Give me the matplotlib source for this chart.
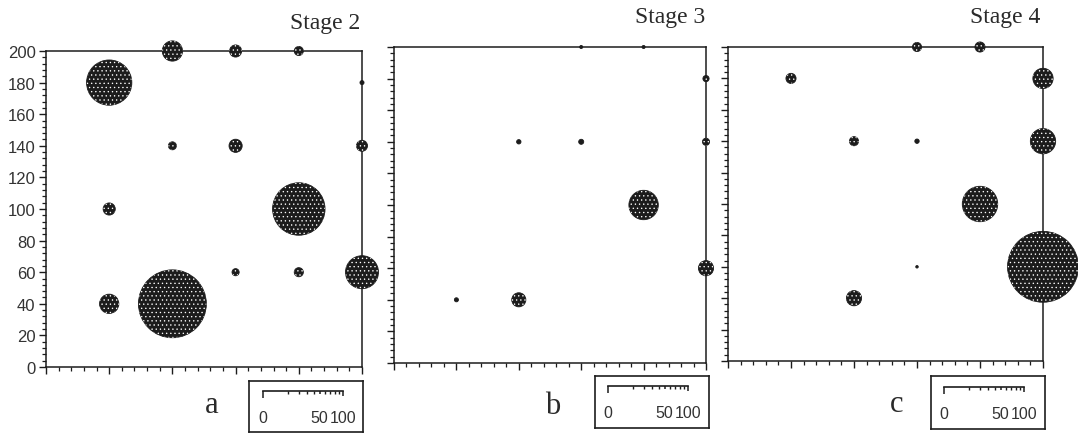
import numpy as np
import matplotlib
matplotlib.use("Agg")
import matplotlib.pyplot as plt
from matplotlib.ticker import MultipleLocator, NullFormatter

plt.rcParams['font.family'] = ['Liberation Sans', 'DejaVu Sans']
plt.rcParams['hatch.color'] = 'white'
plt.rcParams['hatch.linewidth'] = 0.45

W, H = 1078, 435
INK = '#1c1c1c'
LEG_PX = 80          # length of the 0-100 size bar, in pixels

# grid sites and bubble values for each stage
stage2_x = [80, 120, 160, 40, 200, 80, 120, 200, 40, 160, 120, 160, 200, 40, 80]
stage2_y = [200, 200, 200, 180, 180, 140, 140, 140, 100, 100, 60, 60, 60, 40, 40]
stage2_v = [6.4, 2.3, 1.3, 32, 0.26, 1.0, 2.7, 1.9, 2.3, 43, 0.8, 1.3, 17, 5.8, 72]

stage3_x = [120, 160, 200, 80, 120, 200, 160, 200, 40, 80]
stage3_y = [200, 200, 180, 140, 140, 140, 100, 60, 40, 40]
stage3_v = [0.15, 0.15, 0.6, 0.3, 0.4, 0.8, 13.5, 3.6, 0.26, 3.1]

stage4_x = [120, 160, 40, 200, 80, 120, 200, 160, 120, 200, 80]
stage4_y = [200, 200, 180, 180, 140, 140, 140, 100, 60, 60, 40]
stage4_v = [1.3, 1.6, 1.6, 6.4, 1.3, 0.3, 10, 19.6, 0.1, 78.5, 3.6]

stage_titles = ['Stage 2', 'Stage 3', 'Stage 4']
panel_letters = ['a', 'b', 'c']
legend_ticks = [0, 50, 100]


def px(x0, y0, x1, y1):
    """pixel box (top-left origin) -> figure fraction rect"""
    return [x0 / W, 1 - y1 / H, (x1 - x0) / W, (y1 - y0) / H]


def bubble_area(v, dpi):
    d_pt = LEG_PX * np.sqrt(np.asarray(v) / 100.0) * 72.0 / dpi
    return d_pt ** 2


def draw_map(ax, xs, ys, vs, dpi, labels=True):
    ax.set_xlim(0, 200)
    ax.set_ylim(0, 200)
    xs, ys, vs = np.asarray(xs), np.asarray(ys), np.asarray(vs)
    s = bubble_area(vs, dpi)
    ax.scatter(xs, ys, s=s, facecolor=INK, edgecolor=INK, linewidths=0.6,
               zorder=3, clip_on=False)
    # stipple only the discs big enough to carry the dot screen
    big = vs >= 0.5
    ax.scatter(xs[big], ys[big], s=s[big], facecolor='none', edgecolor='white',
               linewidths=0, hatch='....', zorder=4, clip_on=False)
    ax.xaxis.set_major_locator(MultipleLocator(40))
    ax.xaxis.set_minor_locator(MultipleLocator(8))
    ax.yaxis.set_major_locator(MultipleLocator(20))
    ax.yaxis.set_minor_locator(MultipleLocator(4))
    ax.xaxis.set_major_formatter(NullFormatter())
    if not labels:
        ax.yaxis.set_major_formatter(NullFormatter())
    ax.tick_params(which='major', length=5, width=1.0, color=INK,
                   labelsize=12, labelcolor='#333333', pad=2.5)
    ax.tick_params(which='minor', length=3, width=0.9, color=INK)
    for sp in ax.spines.values():
        sp.set_linewidth(1.1)
        sp.set_color(INK)
    ax.set_facecolor('none')


def size_legend(fig, box, bar):
    bx = fig.add_axes(box)
    bx.set_xticks([])
    bx.set_yticks([])
    bx.set_facecolor('none')
    for sp in bx.spines.values():
        sp.set_linewidth(1.2)
        sp.set_color(INK)

    lx = fig.add_axes(bar)
    lx.set_xscale('function', functions=(np.sqrt, np.square))
    lx.set_xlim(0, 100)
    lx.set_ylim(0, 1)
    lx.patch.set_visible(False)
    for side in ['left', 'right', 'top']:
        lx.spines[side].set_visible(False)
    lx.spines['bottom'].set_linewidth(1.2)
    lx.spines['bottom'].set_color(INK)
    lx.set_yticks([])
    lx.set_xticks(legend_ticks)
    lx.set_xticklabels([str(t) for t in legend_ticks])
    lx.set_xticks([10, 20, 30, 40, 60, 70, 80, 90], minor=True)
    lx.tick_params(which='major', length=5, width=1.1, color=INK,
                   labelsize=11.5, labelcolor='#333333', pad=9)
    lx.tick_params(which='minor', length=2.4, width=1.0, color=INK)
    ticks = lx.xaxis.get_major_ticks()
    ticks[1].tick1line.set_markersize(2.4)
    ticks[2].tick1line.set_markersize(3.6)


fig = plt.figure(figsize=(W / 100, H / 100), dpi=100)
dpi = fig.dpi

panels = [px(46, 52, 362, 368), px(394, 48, 706, 364), px(728, 48, 1043, 362)]
boxes = [px(249, 382, 363, 433), px(595, 377, 709, 429), px(931, 377, 1045, 430)]
bars = [px(263, 391.5, 263 + LEG_PX, 392), px(608, 386.5, 608 + LEG_PX, 387),
        px(944, 387.5, 944 + LEG_PX, 388)]
title_pos = [(360, 23), (705, 18), (1040, 18)]
letter_pos = [(212, 406), (553, 407), (897, 405)]

data = [(stage2_x, stage2_y, stage2_v), (stage3_x, stage3_y, stage3_v),
        (stage4_x, stage4_y, stage4_v)]

for i, (xs, ys, vs) in enumerate(data):
    ax = fig.add_axes(panels[i])
    draw_map(ax, xs, ys, vs, dpi, labels=(i == 0))
    size_legend(fig, boxes[i], bars[i])
    tx, ty = title_pos[i]
    fig.text(tx / W, 1 - ty / H, stage_titles[i], ha='right', va='center',
             family='Liberation Serif', fontsize=17, color='#2a2a2a')
    lx_, ly_ = letter_pos[i]
    fig.text(lx_ / W, 1 - ly_ / H, panel_letters[i], ha='center', va='center',
             family='Liberation Serif', fontsize=22, color='#2a2a2a')

fig.savefig('out.png', dpi=100, facecolor='white')
